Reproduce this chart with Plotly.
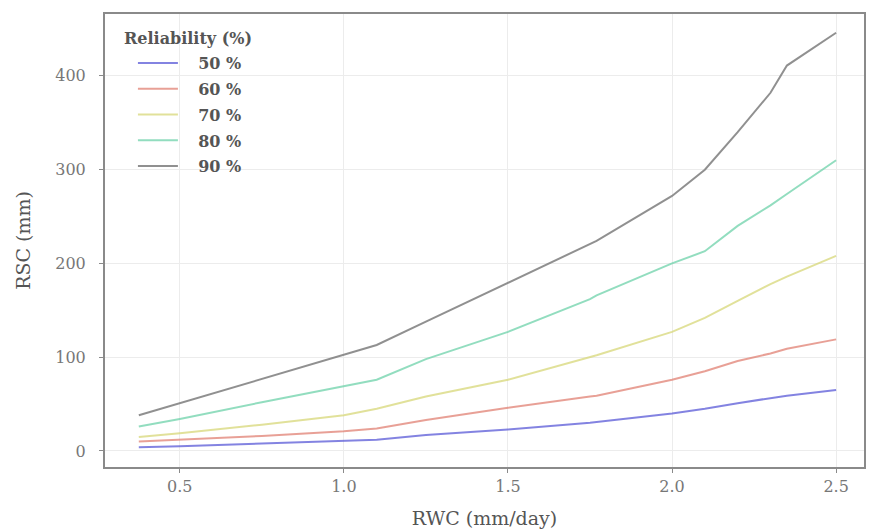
import plotly.graph_objects as go

rwc = [0.375, 0.5, 0.75, 1.0, 1.1, 1.25, 1.5, 1.75, 1.77, 2.0, 2.1, 2.2, 2.3, 2.35, 2.5]
rsc_50 = [4, 5, 8, 11, 12, 17, 23, 30, 31, 40, 45, 51, 56, 59, 65]
rsc_60 = [10, 12, 16, 21, 24, 33, 46, 58, 59, 76, 85, 96, 104, 109, 119]
rsc_70 = [15, 19, 28, 38, 45, 58, 76, 100, 102, 127, 142, 160, 178, 186, 208]
rsc_80 = [26, 34, 52, 69, 76, 98, 127, 162, 166, 200, 213, 240, 262, 274, 310]
rsc_90 = [38, 51, 77, 103, 113, 138, 179, 220, 224, 272, 300, 340, 382, 411, 446]

labels = ["50 %", "60 %", "70 %", "80 %", "90 %"]
series = [rsc_50, rsc_60, rsc_70, rsc_80, rsc_90]
colors = ["rgba(90,90,215,0.75)", "rgba(222,120,105,0.7)", "rgba(215,215,120,0.75)",
          "rgba(110,210,170,0.75)", "rgba(125,125,125,0.85)"]

pad = "\u00a0" * 3

fig = go.Figure()
for i, (lab, ys, c) in enumerate(zip(labels, series, colors)):
    fig.add_trace(go.Scatter(x=rwc, y=ys, mode="lines", name=pad + "<b>" + lab + "</b>",
                             legendgroup=lab,
                             line=dict(color=c, width=2)))

font_family = "DejaVu Serif"
axis_common = dict(showline=True, linecolor="#8a8a8a", linewidth=2, mirror=True,
                   showgrid=True, gridcolor="#ececec", gridwidth=1,
                   ticks="outside", ticklen=4, tickcolor="#8a8a8a",
                   tickfont=dict(family=font_family, size=16, color="#777777"),
                   zeroline=False)

fig.update_layout(
    width=869, height=531,
    margin=dict(l=105, r=3, t=14, b=64),
    paper_bgcolor="white", plot_bgcolor="white",
    font=dict(family=font_family, color="#555555"),
    xaxis=dict(range=[0.272, 2.585], tickvals=[0.5, 1.0, 1.5, 2.0, 2.5],
               ticktext=["0.5", "1.0", "1.5", "2.0", "2.5"],
               title=dict(text="RWC (mm/day)", font=dict(family=font_family, size=19, color="#555555"),
                          standoff=16),
               **axis_common),
    yaxis=dict(range=[-17.1, 466], tickvals=[0, 100, 200, 300, 400],
               ticklabelstandoff=10,
               title=dict(text="RSC (mm)", font=dict(family=font_family, size=19, color="#555555"),
                          standoff=20),
               **axis_common),
    legend=dict(x=(133 - 105) / 761, y=1 - (46 - 14) / 453, xanchor="left", yanchor="top",
                bgcolor="rgba(255,255,255,0)",
                font=dict(family=font_family, size=16, color="#555555"),
                tracegroupgap=2, itemwidth=40),
    showlegend=True,
    annotations=[dict(text="<b>Reliability (%)</b>", xref="paper", yref="paper",
                      x=(122 - 105) / 761, y=1 - (38 - 14) / 453, xanchor="left", yanchor="middle",
                      showarrow=False, font=dict(family=font_family, size=16, color="#555555"))],
)

fig.write_html("out.html")
